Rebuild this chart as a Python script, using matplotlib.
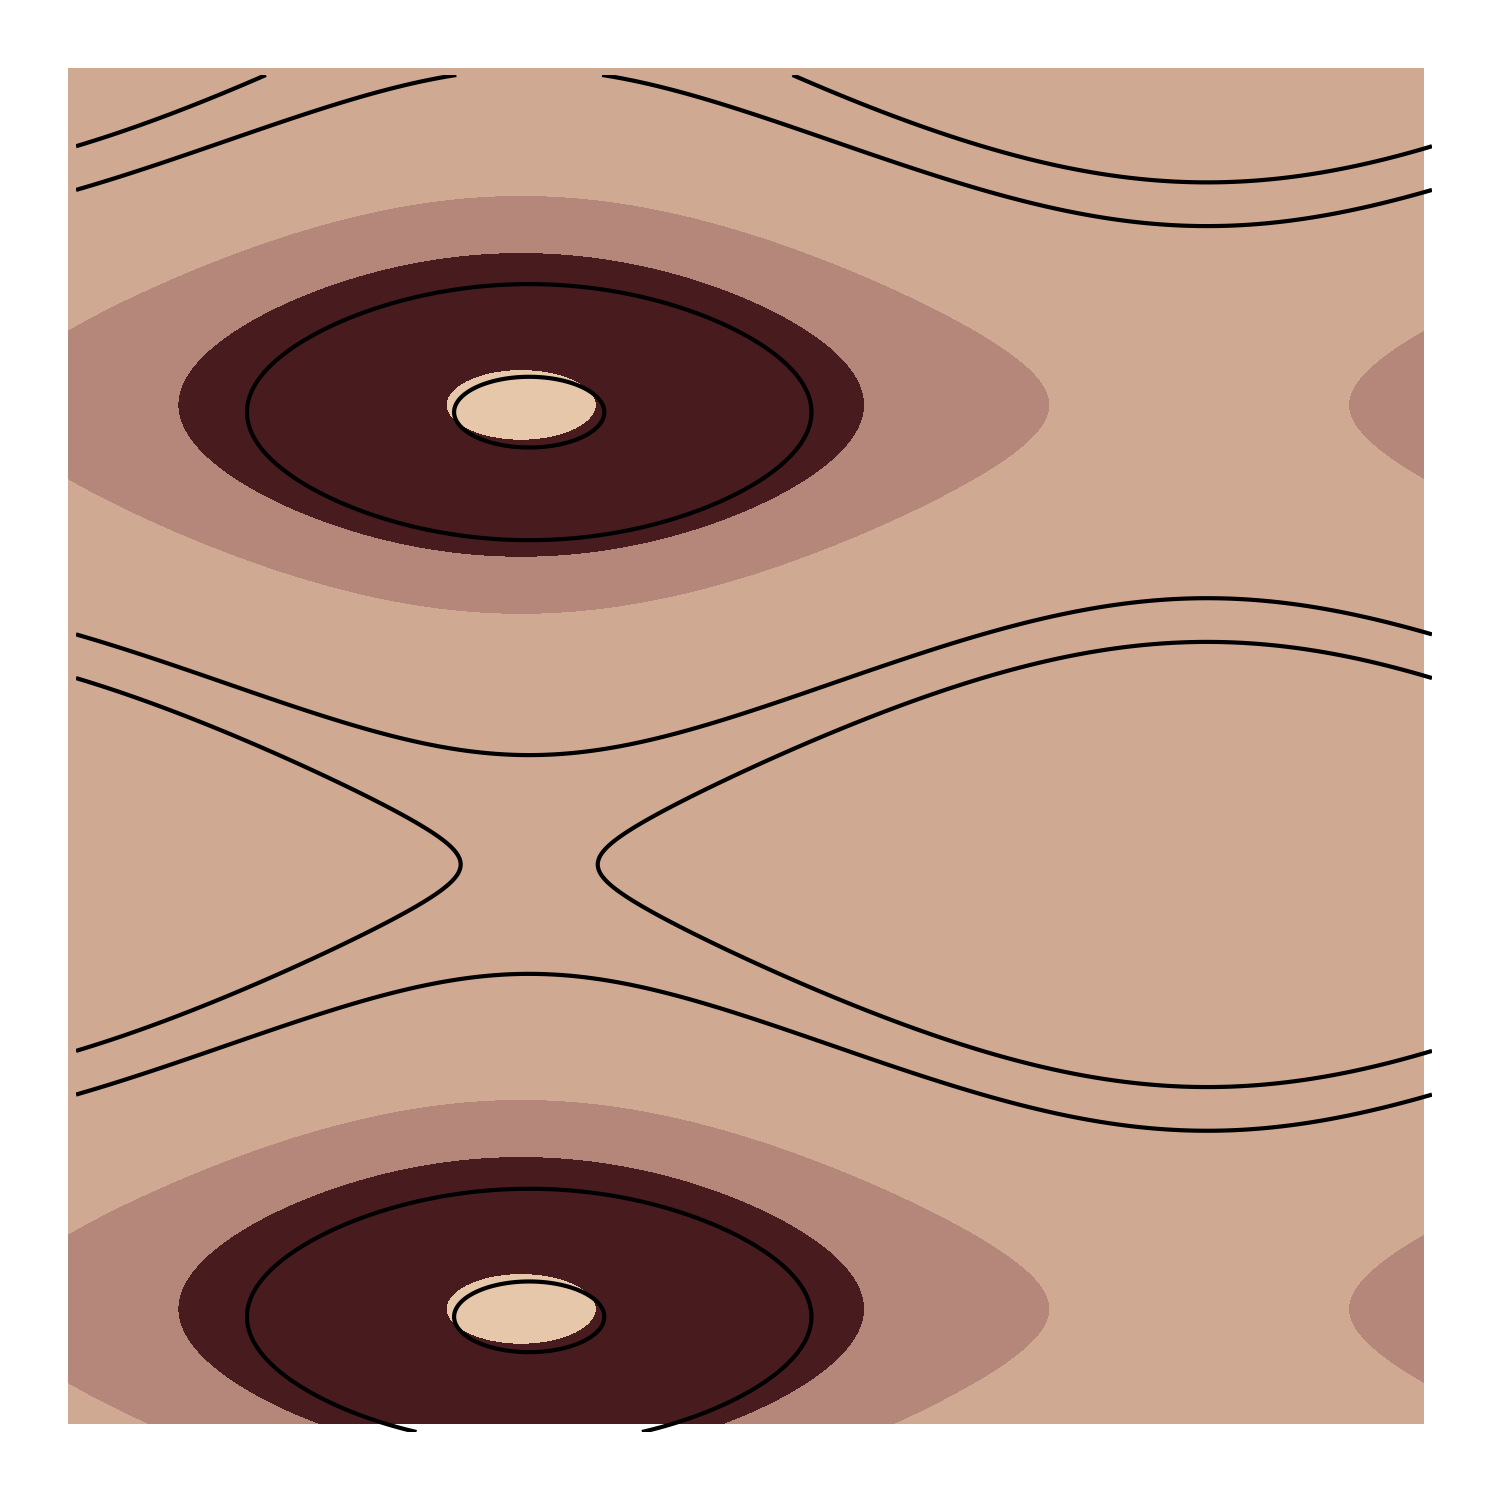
import numpy as np
import matplotlib
matplotlib.use("Agg")
import matplotlib.pyplot as plt

# field: f = -A*cos(u - U0) - B*cos(v - V0)
A = 1.0
B = 2.0
U0 = 2.10
V0 = 0.80
U_RANGE = (0.0, 2 * np.pi)
V_RANGE = (0.0, 3 * np.pi)

fill_levels = [-3.01, -2.94, -1.98, -1.23, 3.01]
fill_colors = ["#e7c7a9", "#481c1f", "#b5877a", "#d0a992"]
line_levels = [-2.94, -2.26, 0.45, 1.05]

u = np.linspace(U_RANGE[0], U_RANGE[1], 600)
v = np.linspace(V_RANGE[0], V_RANGE[1], 600)
U, V = np.meshgrid(u, v)
F = -A * np.cos(U - U0) - B * np.cos(V - V0)

fig = plt.figure(figsize=(10, 10), dpi=150)

# filled contours
ax_fill = fig.add_axes([68 / 1500, 76 / 1500, 1356 / 1500, 1356 / 1500])
ax_fill.contourf(U, V, F, levels=fill_levels, colors=fill_colors)
ax_fill.set_xlim(*U_RANGE)
ax_fill.set_ylim(*V_RANGE)
ax_fill.axis("off")

# line contours, drawn on a slightly shifted box
ax_line = fig.add_axes([76 / 1500, 68 / 1500, 1356 / 1500, 1357 / 1500])
ax_line.contour(U, V, F, levels=line_levels, colors="black",
                linewidths=2.0, linestyles="solid")
ax_line.set_xlim(*U_RANGE)
ax_line.set_ylim(*V_RANGE)
ax_line.patch.set_alpha(0)
ax_line.axis("off")

fig.savefig("out.png", dpi=150)
